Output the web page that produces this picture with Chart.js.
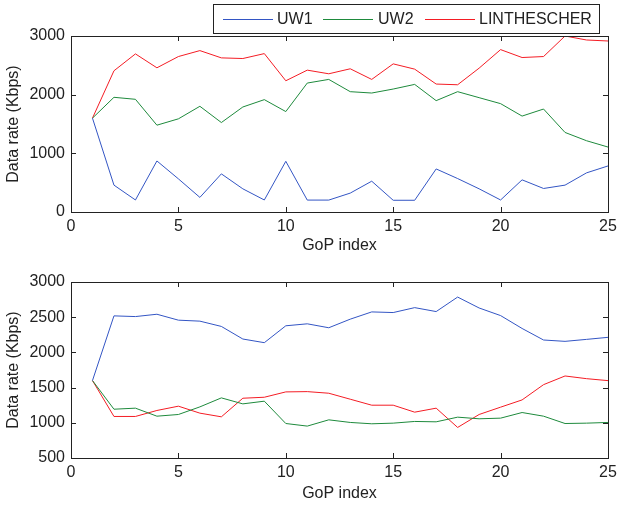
<!DOCTYPE html>
<html>
<head>
<meta charset="utf-8">
<script src="https://cdn.jsdelivr.net/npm/chart.js@4"></script>
<style>
  body { margin: 0; background: #fff; }
  #wrap { position: relative; width: 617px; height: 505px; }
  canvas { position: absolute; left: 0; }
</style>
</head>
<body>
<div id="wrap">
  <canvas id="topChart" width="617" height="255" style="top:0"></canvas>
  <canvas id="bottomChart" width="617" height="255" style="top:250px"></canvas>
</div>
<script>
// GoP index 1..25
const gop = Array.from({ length: 25 }, (_, i) => i + 1);

const seriesNames = ["UW1", "UW2", "LINTHESCHER"];
const seriesColors = ["#3355c4", "#1e8a3c", "#f41c24"];

// top panel
const topUW1 = [1600, 458, 205, 870, 565, 249, 650, 395, 205, 864, 203, 203, 322, 525, 200, 200, 734, 570, 395, 205, 548, 401, 458, 667, 785];
const topUW2 = [1600, 1955, 1921, 1480, 1588, 1802, 1525, 1790, 1915, 1712, 2198, 2260, 2051, 2028, 2096, 2175, 1898, 2051, 1949, 1847, 1635, 1755, 1356, 1215, 1107];
const topLin = [1600, 2407, 2695, 2458, 2650, 2751, 2627, 2616, 2700, 2237, 2418, 2356, 2441, 2260, 2525, 2435, 2181, 2169, 2452, 2768, 2633, 2650, 3000, 2932, 2915];

// bottom panel
const botUW1 = [1600, 2519, 2509, 2542, 2458, 2444, 2369, 2190, 2138, 2378, 2406, 2350, 2472, 2575, 2566, 2636, 2580, 2786, 2631, 2523, 2340, 2176, 2157, 2185, 2214];
const botUW2 = [1600, 1193, 1208, 1094, 1118, 1226, 1354, 1269, 1307, 990, 953, 1042, 1005, 986, 995, 1019, 1014, 1080, 1057, 1066, 1146, 1094, 990, 995, 1005];
const botLin = [1600, 1090, 1090, 1175, 1236, 1137, 1085, 1349, 1363, 1439, 1443, 1420, 1335, 1250, 1250, 1151, 1208, 934, 1118, 1222, 1325, 1542, 1665, 1627, 1599];

const FONT = "'Liberation Sans', Arial, sans-serif";

// box + inward ticks like matlab
const boxPlugin = {
    id: "box",
    afterDraw(chart) {
        const { ctx, chartArea: a, scales } = chart;
        ctx.save();
        ctx.strokeStyle = "#222";
        ctx.lineWidth = 1;
        ctx.strokeRect(a.left + 0.5, a.top + 0.5, a.right - a.left, a.bottom - a.top);
        const len = 5;
        ctx.beginPath();
        scales.x.ticks.forEach(t => {
            const x = Math.round(scales.x.getPixelForValue(t.value)) + 0.5;
            ctx.moveTo(x, a.bottom); ctx.lineTo(x, a.bottom - len);
            ctx.moveTo(x, a.top); ctx.lineTo(x, a.top + len);
        });
        scales.y.ticks.forEach(t => {
            const y = Math.round(scales.y.getPixelForValue(t.value)) + 0.5;
            ctx.moveTo(a.left, y); ctx.lineTo(a.left + len, y);
            ctx.moveTo(a.right, y); ctx.lineTo(a.right - len, y);
        });
        ctx.stroke();
        ctx.restore();
    }
};

// boxed legend at top right (only on the top chart)
const legendPlugin = {
    id: "boxLegend",
    afterDraw(chart) {
        const ctx = chart.ctx;
        const bx = 213, by = 4, bw = 386, bh = 29;
        const linePos = [10, 110, 212];
        const textPos = [64, 165, 266];
        ctx.save();
        ctx.fillStyle = "#fff";
        ctx.fillRect(bx, by, bw, bh);
        ctx.strokeStyle = "#222";
        ctx.lineWidth = 1;
        ctx.strokeRect(bx + 0.5, by + 0.5, bw, bh);
        ctx.font = "16px " + FONT;
        ctx.textBaseline = "middle";
        chart.data.datasets.forEach((ds, i) => {
            ctx.strokeStyle = ds.borderColor;
            ctx.beginPath();
            ctx.moveTo(bx + linePos[i], by + 15.5);
            ctx.lineTo(bx + linePos[i] + 50, by + 15.5);
            ctx.stroke();
            ctx.fillStyle = "#222";
            ctx.fillText(ds.label, bx + textPos[i], by + 16);
        });
        ctx.restore();
    }
};

function makeChart(id, data, yMin, yMax, yStep, padTop, xHeight, titlePadBottom, extra) {
    const font = { family: FONT, size: 16 };
    return new Chart(document.getElementById(id), {
        type: "line",
        data: {
            labels: gop,
            datasets: data.map((d, i) => ({
                label: seriesNames[i],
                data: d.map((v, j) => ({ x: gop[j], y: v })),
                borderColor: seriesColors[i],
                borderWidth: 1,
                pointRadius: 0,
                tension: 0,
                fill: false
            }))
        },
        options: {
            responsive: false,
            animation: false,
            layout: { padding: { top: padTop, right: 9, left: 0, bottom: 0 } },
            plugins: { legend: { display: false }, tooltip: { enabled: false } },
            scales: {
                x: {
                    type: "linear", min: 0, max: 25,
                    ticks: { stepSize: 5, color: "#222", font: font, padding: 5, maxRotation: 0 },
                    grid: { display: false, drawTicks: false },
                    border: { display: false },
                    title: { display: true, text: "GoP index", color: "#222", font: font,
                             padding: { top: 0, bottom: titlePadBottom } },
                    afterFit: s => { s.height = xHeight; s.paddingLeft = 0; s.paddingRight = 0; }
                },
                y: {
                    min: yMin, max: yMax,
                    ticks: { stepSize: yStep, color: "#222", font: font, padding: 6,
                             callback: v => String(v) },
                    grid: { display: false, drawTicks: false },
                    border: { display: false },
                    title: { display: true, text: "Data rate (Kbps)", color: "#222", font: font,
                             padding: { top: 4, bottom: 0 } },
                    afterFit: s => { s.width = 71; s.paddingTop = 0; s.paddingBottom = 0; }
                }
            }
        },
        plugins: [boxPlugin].concat(extra)
    });
}

makeChart("topChart", [topUW1, topUW2, topLin], 0, 3000, 1000, 36, 43, 0, [legendPlugin]);
makeChart("bottomChart", [botUW1, botUW2, botLin], 500, 3000, 500, 32, 47, 2, []);
</script>
</body>
</html>
